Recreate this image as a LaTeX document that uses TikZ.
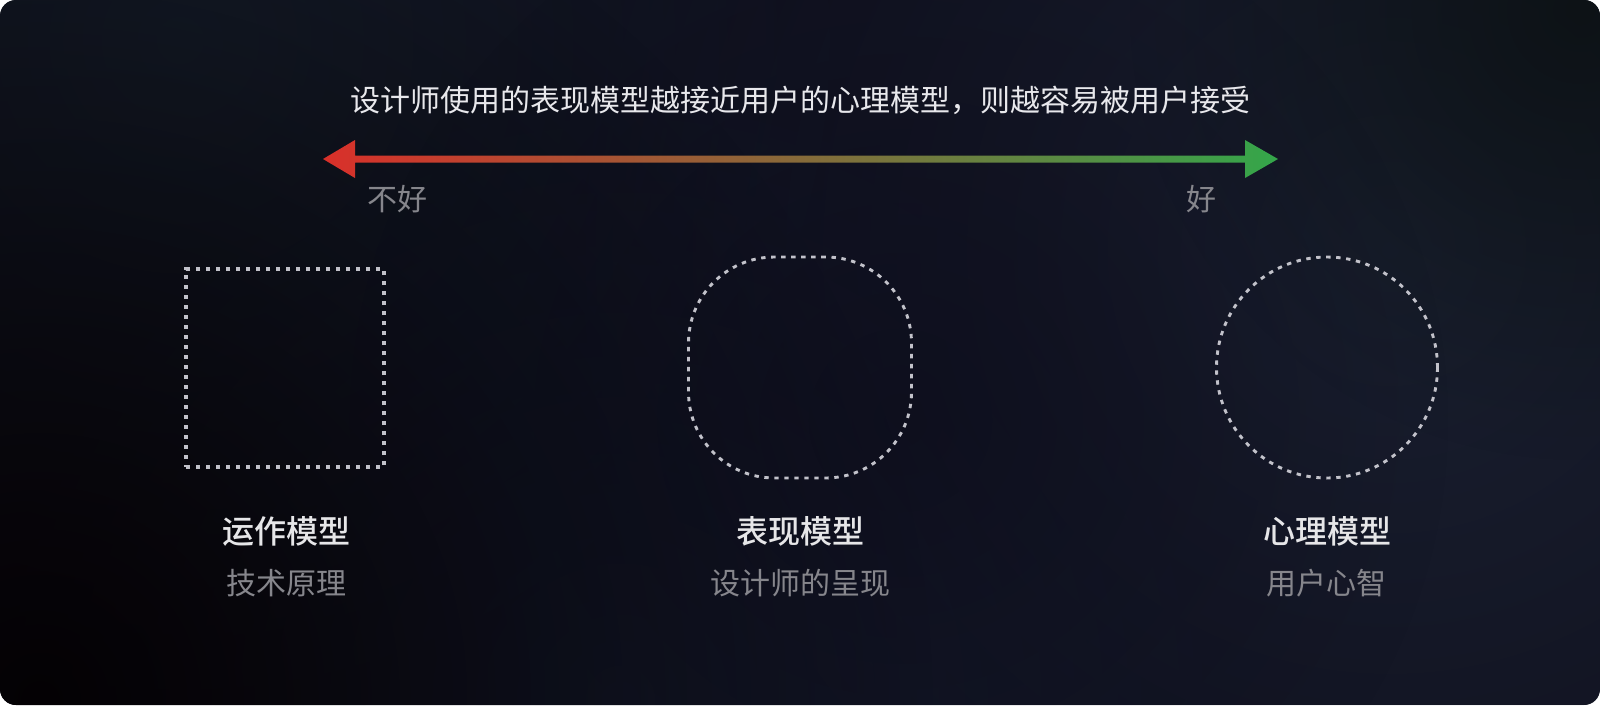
\documentclass[tikz,border=0pt]{standalone}
\usepackage{fontspec}
\setmainfont{Noto Sans CJK SC}
\newfontfamily\medfont{Noto Sans CJK SC Medium}
\usetikzlibrary{fadings}
\tikzfading[name=glowfade, inner color=transparent!0, outer color=transparent!100]
\definecolor{bgbase}{HTML}{0E0E1B}
\definecolor{titlecol}{HTML}{E8E8EC}
\definecolor{labelcol}{HTML}{E6E6E8}
\definecolor{subcol}{HTML}{86868C}
\definecolor{dashcol}{HTML}{C2C2CA}
\definecolor{badred}{HTML}{D9302A}
\definecolor{goodgreen}{HTML}{34A64A}
\definecolor{glowA}{HTML}{16202C}
\definecolor{glowB}{HTML}{1C2334}
\definecolor{glowC}{HTML}{172031}
\definecolor{glowD}{HTML}{040103}
\definecolor{glowE}{HTML}{0B1112}
\definecolor{glowF}{HTML}{0B0A18}
\tikzset{
  x=1pt, y=-1pt,
  glow/.style={path fading=glowfade, fill=#1},
  modelshape/.style={draw=dashcol, line width=2.9pt, dash pattern=on 4.4pt off 5.6pt, inner sep=0pt},
  titletext/.style={text=titlecol, font=\fontsize{30}{36}\selectfont, inner sep=0pt},
  endtext/.style={text=subcol, font=\fontsize{30}{34}\selectfont, inner sep=0pt},
  labeltext/.style={text=labelcol, font=\fontsize{32}{36}\medfont, inner sep=0pt},
  subtext/.style={text=subcol, font=\fontsize{30}{34}\selectfont, inner sep=0pt},
}
\begin{document}
\begin{tikzpicture}
\useasboundingbox (0,0) rectangle (1600,705);
\fill[white] (0,0) rectangle (1600,705);
\begin{scope}
  \clip[rounded corners=16pt] (0,0) rectangle (1600,705);
  \fill[bgbase] (0,0) rectangle (1600,705);
  % background glows
  \begin{scope}[opacity=0.75]
    \fill[glow=glowA] (180,40) circle (700);
  \end{scope}
  \begin{scope}[opacity=0.85]
    \fill[glow=glowB] (1390,250) circle (850);
  \end{scope}
  \begin{scope}[opacity=0.7]
    \fill[glow=glowC] (620,700) circle (650);
  \end{scope}
  \begin{scope}[opacity=0.95]
    \fill[glow=glowD] (40,700) circle (900);
  \end{scope}
  \begin{scope}[opacity=0.8]
    \fill[glow=glowE] (1580,10) circle (450);
  \end{scope}
  \begin{scope}[opacity=0.6]
    \fill[glow=glowF] (900,420) circle (550);
  \end{scope}
\end{scope}

% title
\node[titletext] (title) at (800,100) {设计师使用的表现模型越接近用户的心理模型，则越容易被用户接受};

% double arrow
\coordinate (L) at (323,159);
\coordinate (R) at (1278,159);
\shade[left color=badred, right color=goodgreen]
  (L) -- ++(32,-19) -- ++(0,15.5) -- (1245,155.5) -- ++(0,-15.5)
  -- (R) -- (1245,178) -- ++(0,-15.5) -- (355,162.5) -- ++(0,15.5) -- cycle;

\node[endtext] (bad) at (397,199) {不好};
\node[endtext] (good) at (1201,199) {好};

% model shapes
\node[modelshape, line width=3.4pt, rectangle, minimum width=198pt, minimum height=198pt] (op) at (285,368) {};
\node[modelshape, rectangle, rounded corners=86pt, minimum width=223pt, minimum height=221pt] (rep) at (800,367.5) {};
\node[modelshape, circle, minimum size=221pt] (men) at (1327,367.5) {};

% labels
\node[labeltext] (opl) at (286,531) {运作模型};
\node[subtext] (ops) at (286,583) {技术原理};
\node[labeltext] (repl) at (800,531) {表现模型};
\node[subtext] (reps) at (800,583) {设计师的呈现};
\node[labeltext] (menl) at (1327,531) {心理模型};
\node[subtext] (mens) at (1326,583) {用户心智};
\end{tikzpicture}
\end{document}
